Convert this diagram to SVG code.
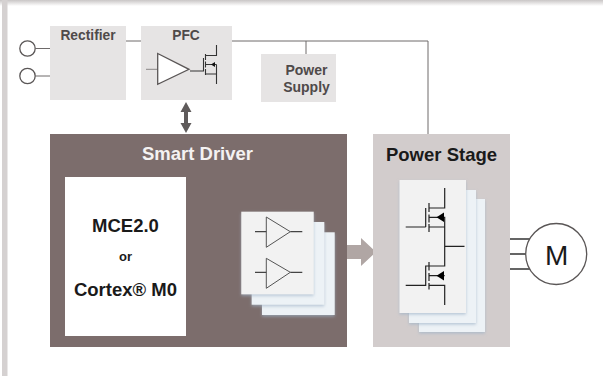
<svg xmlns="http://www.w3.org/2000/svg" width="603" height="376" viewBox="0 0 603 376">
<style>
text{font-family:"Liberation Sans",Arial,sans-serif;font-weight:bold;text-anchor:middle}
.g{fill:#e6e4e4}
.sm{fill:#4f4a4a;font-size:13.8px}
.lg{fill:#1a1a1a;font-size:18.500px}
.w{fill:none;stroke:#6e6a6a;stroke-width:1}
.c{fill:none;stroke:#222;stroke-width:1.200}
.a{fill:none;stroke:#555;stroke-width:1}
.p{fill:none;stroke:#333;stroke-width:1.100}
.card{fill:#f2f2f2;filter:url(#s)}
.back{fill:#edf2f6;filter:url(#s)}
</style>
<defs>
<filter id="s" x="-15%" y="-15%" width="130%" height="130%"><feDropShadow dx="0" dy="1.500" stdDeviation="1.500" flood-color="#9fb4c8" flood-opacity=".7"/></filter>
<linearGradient id="top" x1="0" y1="0" x2="0" y2="1"><stop offset="0" stop-color="#c9c6c6"/><stop offset="1" stop-color="#fff"/></linearGradient>
</defs>
<rect width="603" height="376" fill="#fff"/>
<rect width="603" height="6" fill="url(#top)"/>
<rect x="2" y="0" width="5.500" height="376" fill="#d5d1d1"/>

<g id="connectors">
<path class="w" d="M35.500 48.500H50M35.500 76H50"/>
<path class="w" d="M126 41H141M231 41H428V134M306 41V54"/>
<path fill="#5f5b5b" d="M186 102l5.500 10h-3.500v11h3.500l-5.500 10l-5.500-10h3.500v-11h-3.500z"/>
<path fill="#b0a6a4" d="M344 245H361V238L376 252L361 266V259H344z"/>
<path fill="none" stroke="#333" stroke-width="1.300" d="M510 239H531M510 254H527M510 269H531"/>
</g>

<g id="terminal-1"><circle cx="27.500" cy="48.500" r="7.700" fill="#fff" stroke="#5a5656" stroke-width="1.300"/></g>
<g id="terminal-2"><circle cx="27.500" cy="76" r="7.700" fill="#fff" stroke="#5a5656" stroke-width="1.300"/></g>

<g id="rectifier">
<rect class="g" x="50" y="26" width="76" height="74"/>
<text class="sm" x="88" y="40">Rectifier</text>
</g>

<g id="pfc">
<rect class="g" x="141" y="26" width="91" height="74"/>
<text class="sm" x="186" y="40">PFC</text>
<path d="M146 69.300H157.700" fill="none" stroke="#8a8686"/>
<path d="M157.700 53.500L189 69.300L157.700 84.300z" fill="#fff" stroke="#5a5656" stroke-width="1.300"/>
<path class="p" d="M190 71H203.500V58M205.500 54V60M205.500 61.500V67.500M205.500 69V75M205.500 55.500H216.500V45M205.500 64.500H216.500M205.500 74H216.500V84M216.500 64.500V74"/>
<path d="M211 64.500l4-2.500v5z" fill="#111"/>
</g>

<g id="power-supply">
<rect class="g" x="261" y="54" width="75" height="48"/>
<text class="sm" style="font-size:14px" x="306.500" y="75">Power</text>
<text class="sm" style="font-size:14px" x="306.500" y="92">Supply</text>
</g>

<g id="smart-driver">
<rect x="50" y="134" width="297" height="213" fill="#7c6d6c"/>
<text x="197.500" y="160" style="font-size:18.500px" fill="#f4f2f2">Smart Driver</text>
</g>

<g id="mce">
<rect x="65" y="177" width="121" height="159" fill="#fff"/>
<text class="lg" x="125.500" y="232">MCE2.0</text>
<text x="125.500" y="261" style="font-size:13px" fill="#1a1a1a">or</text>
<text class="lg" x="125.500" y="296">Cortex® M0</text>
</g>

<g id="driver-stack">
<rect class="back" x="262" y="232.300" width="72.700" height="82.700"/>
<rect class="back" x="251.700" y="222" width="72.600" height="82.700"/>
<rect class="card" x="241.300" y="211.700" width="72.400" height="82.600"/>
<path class="a" d="M266.300 217L290.300 231.700L266.300 247.300zM266.300 258.300L290.300 272.300L266.300 288.300z"/>
<path fill="none" stroke="#444" stroke-width="1.200" d="M255 231.700H266.300M290.300 231.700H302.300M255 272.300H266.300M290.300 272.300H302.300"/>
</g>

<g id="power-stage">
<rect x="373" y="134" width="137" height="213" fill="#d2cccc"/>
<text class="lg" x="441.500" y="161">Power Stage</text>
<rect class="back" x="419" y="199" width="66" height="133"/>
<rect class="back" x="409" y="190" width="67" height="133"/>
<rect class="card" x="399.500" y="180" width="66.500" height="133"/>
<path class="c" d="M444.700 188V208H429.300M425.700 208V227M429 203V212M429 214.500V222.500M429 224V232M429 217.300H444.700V227H429M405.700 227H425.700M444.700 227V266H429M444.700 246.300H464.500"/>
<path class="c" d="M429 262V270.500M429 273V281M429 283V289.500M429 275.700H444.700M429 285.300H444.700V305M405.700 285.300H425.700V266H429"/>
<path d="M436.500 217.300L444 212.500V222z" fill="#000"/>
<path d="M436.500 275.700L444 271V280.500z" fill="#000"/>
</g>

<g id="motor">
<circle cx="556.200" cy="254" r="30.500" fill="#fff" stroke="#5a5656" stroke-width="1.300"/>
<text x="556.700" y="265" style="font-size:28px;font-weight:normal" fill="#1a1a1a">M</text>
</g>
</svg>
